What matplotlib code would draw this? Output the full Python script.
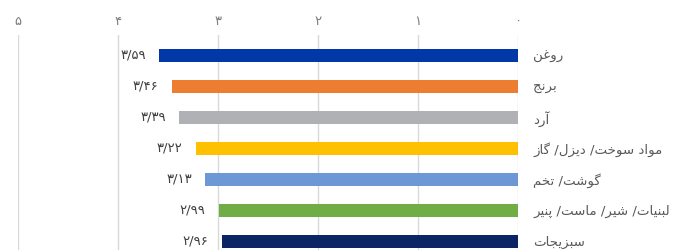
import matplotlib
matplotlib.use("Agg")
import matplotlib.pyplot as plt

# ---------------- data ----------------
categories = ["روغن", "برنج", "آرد", "مواد سوخت/ دیزل/ گاز", "گوشت/ تخم",
              "لبنیات/ شیر/ ماست/ پنیر", "سبزیجات"]
values = [3.59, 3.46, 3.39, 3.22, 3.13, 2.99, 2.96]
value_labels = ["۳/۵۹", "۳/۴۶", "۳/۳۹", "۳/۲۲", "۳/۱۳", "۲/۹۹", "۲/۹۶"]
tick_values = [0, 1, 2, 3, 4, 5]
tick_labels = ["۰", "۱", "۲", "۳", "۴", "۵"]
colors = ["#0038A8", "#ED7D31", "#B0B1B5", "#FFC000", "#6E97D5", "#70AD47", "#0B2466"]

# ---------------- minimal Arabic/Persian shaping ----------------
FORMS = {
    "ا": ("\uFE8D", "\uFE8E", None, None),
    "آ": ("\uFE81", "\uFE82", None, None),
    "ب": ("\uFE8F", "\uFE90", "\uFE91", "\uFE92"),
    "پ": ("\uFB56", "\uFB57", "\uFB58", "\uFB59"),
    "ت": ("\uFE95", "\uFE96", "\uFE97", "\uFE98"),
    "ج": ("\uFE9D", "\uFE9E", "\uFE9F", "\uFEA0"),
    "خ": ("\uFEA5", "\uFEA6", "\uFEA7", "\uFEA8"),
    "د": ("\uFEA9", "\uFEAA", None, None),
    "ر": ("\uFEAD", "\uFEAE", None, None),
    "ز": ("\uFEAF", "\uFEB0", None, None),
    "س": ("\uFEB1", "\uFEB2", "\uFEB3", "\uFEB4"),
    "ش": ("\uFEB5", "\uFEB6", "\uFEB7", "\uFEB8"),
    "غ": ("\uFECD", "\uFECE", "\uFECF", "\uFED0"),
    "گ": ("\uFB92", "\uFB93", "\uFB94", "\uFB95"),
    "ل": ("\uFEDD", "\uFEDE", "\uFEDF", "\uFEE0"),
    "م": ("\uFEE1", "\uFEE2", "\uFEE3", "\uFEE4"),
    "ن": ("\uFEE5", "\uFEE6", "\uFEE7", "\uFEE8"),
    "و": ("\uFEED", "\uFEEE", None, None),
    "ی": ("\uFBFC", "\uFBFD", "\uFBFE", "\uFBFF"),
}


def shape(text):
    out = []
    n = len(text)
    for i, ch in enumerate(text):
        if ch not in FORMS:
            out.append(ch)
            continue
        iso, fin, ini, med = FORMS[ch]
        prev = text[i - 1] if i > 0 else None
        nxt = text[i + 1] if i < n - 1 else None
        join_prev = prev in FORMS and FORMS[prev][2] is not None
        join_next = nxt in FORMS and ini is not None
        if join_prev and join_next:
            out.append(med)
        elif join_prev:
            out.append(fin)
        elif join_next:
            out.append(ini)
        else:
            out.append(iso)
    return "".join(out)[::-1]


# ---------------- figure ----------------
W, H, DPI = 674, 250, 100
fig = plt.figure(figsize=(W / DPI, H / DPI), dpi=DPI)
ax = fig.add_axes([18 / W, 0.0, 500 / W, 215 / H])

y = list(range(len(categories)))
ax.barh(y, values, height=0.42, color=colors, zorder=3)

ax.set_xlim(5, 0)
ax.set_ylim(6.29, -0.65)

ax.set_xticks(tick_values)
ax.set_xticklabels(tick_labels, fontsize=9.5, color="#7F7F7F", family="DejaVu Sans")
ax.xaxis.tick_top()
ax.tick_params(axis="x", length=0, pad=5)
ax.grid(axis="x", color="#D9D9D9", linewidth=1, zorder=0)

ax.set_yticks(y)
ax.set_yticklabels([shape(c) for c in categories], fontsize=9.6, color="#595959",
                   family="DejaVu Sans")
ax.yaxis.tick_right()
ax.tick_params(axis="y", length=0, pad=11)

for s in ax.spines.values():
    s.set_visible(False)

for yi, v, lab in zip(y, values, value_labels):
    ax.annotate(lab, xy=(v, yi), xytext=(-9.5, 0), textcoords="offset points",
                ha="right", va="center", fontsize=9.5, color="#404040",
                family="DejaVu Sans")

fig.savefig("out.png", dpi=DPI)
